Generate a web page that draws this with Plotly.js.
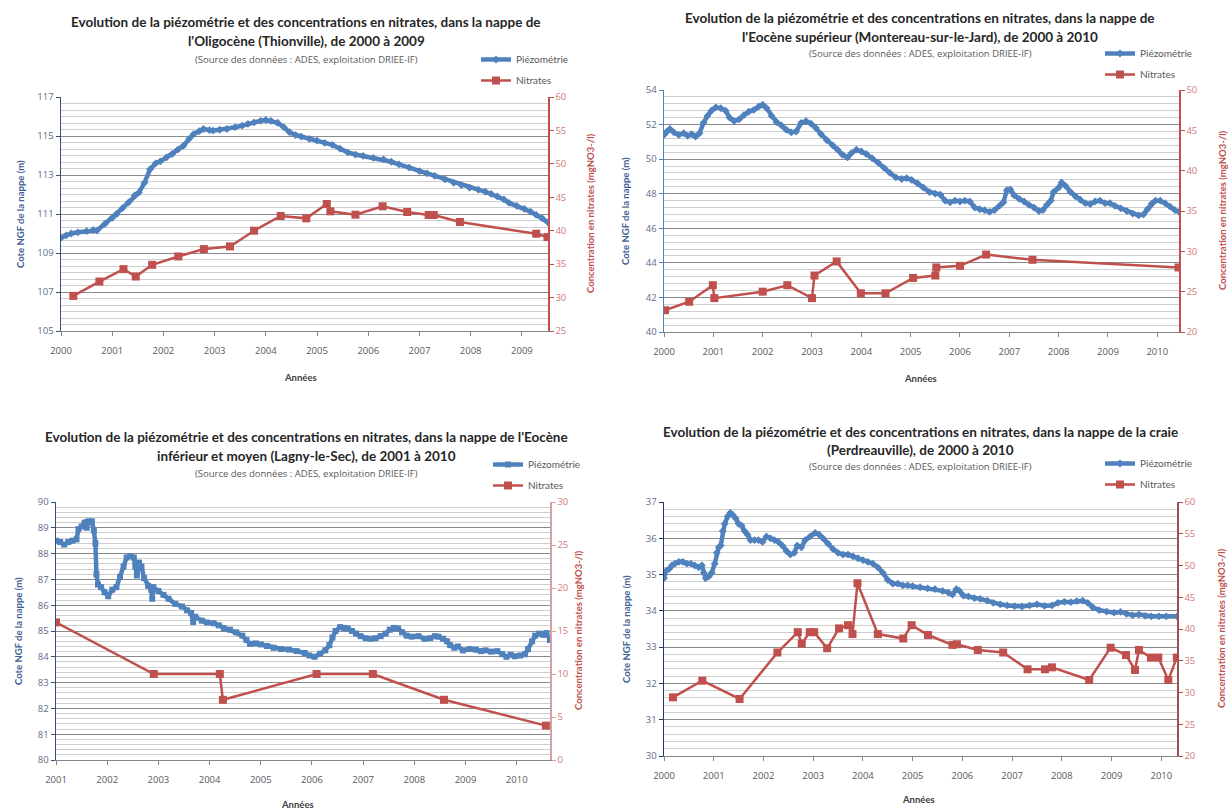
<!DOCTYPE html>
<html>
<head>
<meta charset="utf-8">
<script src="https://cdn.plot.ly/plotly-3.0.1.min.js"></script>
<style>html,body{margin:0;padding:0;background:#fff;}#chart{width:1229px;height:810px;}</style>
</head>
<body>
<div id="chart"></div>
<script>
// ---------- DATA ----------
// Panel 1 : Oligocène (Thionville)
const p1PiezoYears = [2000.00,2000.10,2000.20,2000.33,2000.50,2000.63,2000.70,2000.86,2001.00,2001.09,2001.20,2001.32,2001.44,2001.52,2001.63,2001.74,2001.85,2001.94,2002.06,2002.17,2002.28,2002.39,2002.50,2002.59,2002.70,2002.78,2002.90,2002.97,2003.10,2003.24,2003.40,2003.54,2003.65,2003.77,2003.90,2004.00,2004.10,2004.23,2004.35,2004.46,2004.58,2004.69,2004.85,2005.00,2005.15,2005.30,2005.45,2005.60,2005.75,2005.90,2006.10,2006.30,2006.45,2006.60,2006.80,2007.00,2007.15,2007.30,2007.50,2007.67,2007.82,2007.98,2008.15,2008.29,2008.40,2008.52,2008.65,2008.75,2008.90,2009.05,2009.17,2009.28,2009.40,2009.51];
const p1PiezoValues = [109.78,109.90,110.00,110.06,110.12,110.18,110.15,110.50,110.80,111.00,111.30,111.60,111.95,112.10,112.60,113.30,113.60,113.70,113.90,114.07,114.30,114.50,114.85,115.10,115.25,115.36,115.30,115.28,115.32,115.36,115.45,115.53,115.62,115.70,115.78,115.82,115.78,115.68,115.45,115.20,115.05,114.97,114.85,114.76,114.65,114.55,114.35,114.16,114.05,113.98,113.88,113.80,113.68,113.55,113.38,113.20,113.08,112.95,112.78,112.60,112.48,112.35,112.25,112.14,112.03,111.90,111.75,111.57,111.42,111.26,111.12,110.95,110.78,110.57];
const p1NitrYears = [2000.24,2000.75,2001.22,2001.46,2001.78,2002.29,2002.79,2003.30,2003.77,2004.29,2004.79,2005.19,2005.26,2005.75,2006.28,2006.76,2007.18,2007.28,2007.79,2009.28,2009.50];
const p1NitrValues = [30.25,32.4,34.25,33.15,34.9,36.15,37.25,37.65,40.0,42.2,41.85,44.0,42.9,42.4,43.65,42.8,42.35,42.35,41.3,39.55,39.05];

// Panel 2 : Eocène supérieur (Montereau-sur-le-Jard)
const p2PiezoYears = [2000.00,2000.06,2000.12,2000.20,2000.30,2000.40,2000.48,2000.56,2000.64,2000.72,2000.80,2000.88,2000.96,2001.05,2001.15,2001.25,2001.33,2001.42,2001.52,2001.62,2001.72,2001.82,2001.92,2002.00,2002.08,2002.18,2002.28,2002.38,2002.48,2002.58,2002.68,2002.78,2002.88,2002.98,2003.08,2003.18,2003.30,2003.42,2003.52,2003.62,2003.72,2003.80,2003.90,2004.00,2004.10,2004.22,2004.34,2004.46,2004.58,2004.70,2004.82,2004.92,2005.02,2005.14,2005.26,2005.38,2005.50,2005.60,2005.70,2005.80,2005.90,2006.00,2006.10,2006.20,2006.30,2006.40,2006.50,2006.60,2006.70,2006.80,2006.88,2006.95,2007.02,2007.10,2007.20,2007.30,2007.40,2007.50,2007.60,2007.68,2007.76,2007.84,2007.90,2008.00,2008.06,2008.14,2008.24,2008.34,2008.44,2008.54,2008.64,2008.74,2008.84,2008.94,2009.04,2009.14,2009.26,2009.38,2009.50,2009.62,2009.72,2009.80,2009.88,2009.96,2010.06,2010.16,2010.26,2010.36,2010.44];
const p2PiezoValues = [51.40,51.60,51.75,51.55,51.40,51.50,51.35,51.45,51.30,51.50,52.10,52.50,52.80,53.00,52.95,52.80,52.40,52.20,52.30,52.55,52.75,52.85,53.05,53.15,52.95,52.50,52.15,51.95,51.70,51.55,51.60,52.10,52.20,52.05,51.80,51.45,51.10,50.80,50.55,50.25,50.10,50.35,50.55,50.45,50.30,50.05,49.80,49.50,49.20,48.95,48.85,48.90,48.80,48.60,48.35,48.10,48.00,47.95,47.60,47.50,47.60,47.55,47.60,47.55,47.20,47.10,47.05,46.95,47.05,47.30,47.50,48.20,48.25,47.90,47.70,47.55,47.35,47.20,47.00,47.05,47.35,47.60,48.10,48.35,48.65,48.45,48.10,47.85,47.65,47.45,47.40,47.55,47.60,47.45,47.45,47.30,47.15,47.00,46.85,46.75,46.80,47.10,47.40,47.60,47.60,47.45,47.25,47.05,46.95];
const p2NitrYears = [2000.02,2000.51,2000.99,2001.02,2002.00,2002.50,2003.00,2003.05,2003.50,2003.99,2004.49,2005.05,2005.50,2005.52,2006.00,2006.53,2007.47,2010.43];
const p2NitrValues = [22.7,23.75,25.8,24.2,25.0,25.8,24.2,27.0,28.75,24.8,24.8,26.7,27.0,28.0,28.2,29.6,28.95,28.0];

// Panel 3 : Eocène inférieur et moyen (Lagny-le-Sec)
const p3PiezoYears = [2001.00,2001.08,2001.16,2001.24,2001.32,2001.40,2001.44,2001.50,2001.56,2001.60,2001.64,2001.70,2001.74,2001.77,2001.79,2001.82,2001.88,2001.95,2002.02,2002.10,2002.18,2002.25,2002.32,2002.38,2002.45,2002.52,2002.55,2002.58,2002.62,2002.67,2002.72,2002.80,2002.86,2002.88,2002.90,2003.00,2003.10,2003.20,2003.33,2003.46,2003.56,2003.64,2003.68,2003.72,2003.85,2003.95,2004.08,2004.18,2004.28,2004.40,2004.52,2004.64,2004.72,2004.79,2004.90,2005.00,2005.12,2005.25,2005.40,2005.55,2005.70,2005.86,2005.95,2006.05,2006.16,2006.26,2006.34,2006.40,2006.46,2006.55,2006.63,2006.70,2006.78,2006.86,2006.95,2007.05,2007.15,2007.24,2007.34,2007.44,2007.52,2007.60,2007.68,2007.76,2007.85,2007.95,2008.08,2008.20,2008.31,2008.40,2008.47,2008.56,2008.64,2008.70,2008.78,2008.85,2008.95,2009.08,2009.20,2009.30,2009.39,2009.50,2009.62,2009.72,2009.80,2009.88,2009.96,2010.07,2010.16,2010.22,2010.30,2010.36,2010.44,2010.52,2010.58,2010.65];
const p3PiezoValues = [88.50,88.45,88.35,88.45,88.50,88.55,88.95,89.05,89.20,89.00,89.25,89.25,88.90,88.40,87.20,86.80,86.70,86.50,86.35,86.60,86.70,87.10,87.50,87.85,87.90,87.85,87.50,87.15,87.65,87.50,87.05,86.75,86.60,86.25,86.70,86.55,86.40,86.25,86.05,85.95,85.80,85.70,85.35,85.55,85.40,85.33,85.30,85.22,85.10,85.05,84.95,84.82,84.65,84.50,84.52,84.48,84.42,84.35,84.30,84.28,84.22,84.15,84.05,84.00,84.12,84.25,84.45,84.75,85.00,85.15,85.12,85.10,85.00,84.90,84.80,84.72,84.70,84.72,84.80,84.90,85.05,85.12,85.10,84.95,84.82,84.78,84.80,84.70,84.72,84.80,84.78,84.70,84.60,84.45,84.35,84.40,84.25,84.30,84.28,84.22,84.25,84.20,84.22,84.10,84.00,84.08,84.02,84.05,84.10,84.30,84.60,84.82,84.90,84.85,84.92,84.65];
const p3NitrYears = [2001.00,2002.91,2004.20,2004.26,2006.09,2007.19,2008.58,2010.57];
const p3NitrValues = [16.0,10.0,10.0,7.0,10.0,10.0,7.0,4.0];

// Panel 4 : craie (Perdreauville)
const p4PiezoYears = [2000.00,2000.04,2000.10,2000.16,2000.22,2000.30,2000.38,2000.46,2000.54,2000.62,2000.70,2000.76,2000.80,2000.84,2000.90,2000.96,2001.02,2001.06,2001.10,2001.14,2001.18,2001.22,2001.28,2001.33,2001.38,2001.44,2001.50,2001.56,2001.62,2001.68,2001.74,2001.82,2001.90,2001.98,2002.06,2002.14,2002.22,2002.30,2002.38,2002.46,2002.54,2002.62,2002.68,2002.76,2002.84,2002.94,2003.04,2003.12,2003.20,2003.30,2003.40,2003.50,2003.60,2003.70,2003.80,2003.90,2004.00,2004.10,2004.20,2004.30,2004.40,2004.50,2004.60,2004.70,2004.80,2004.90,2005.00,2005.15,2005.30,2005.45,2005.60,2005.72,2005.80,2005.88,2005.94,2006.02,2006.12,2006.24,2006.36,2006.50,2006.62,2006.76,2006.90,2007.05,2007.20,2007.35,2007.50,2007.65,2007.80,2007.92,2008.05,2008.18,2008.30,2008.42,2008.52,2008.62,2008.75,2008.90,2009.05,2009.18,2009.30,2009.42,2009.55,2009.68,2009.80,2009.95,2010.10,2010.315];
const p4PiezoValues = [34.90,35.10,35.15,35.25,35.30,35.35,35.35,35.30,35.30,35.25,35.20,35.25,35.05,34.90,34.95,35.05,35.30,35.60,35.75,35.80,36.20,36.40,36.60,36.70,36.65,36.55,36.40,36.35,36.20,36.10,35.95,35.95,35.95,35.90,36.05,36.00,35.95,35.90,35.80,35.65,35.55,35.60,35.80,35.75,35.95,36.05,36.15,36.10,36.00,35.85,35.70,35.60,35.55,35.55,35.50,35.45,35.40,35.35,35.30,35.20,35.05,34.85,34.75,34.75,34.70,34.70,34.68,34.65,34.62,34.60,34.55,34.50,34.45,34.60,34.55,34.42,34.40,34.35,34.33,34.28,34.22,34.18,34.15,34.13,34.12,34.15,34.18,34.14,34.15,34.22,34.25,34.24,34.27,34.28,34.22,34.10,34.02,33.98,33.95,33.97,33.92,33.88,33.90,33.86,33.85,33.85,33.85,33.85];
const p4NitrYears = [2000.18,2000.77,2001.52,2002.28,2002.69,2002.77,2002.93,2003.02,2003.28,2003.52,2003.70,2003.79,2003.89,2004.30,2004.81,2004.98,2005.31,2005.80,2005.89,2006.31,2006.82,2007.31,2007.66,2007.80,2008.55,2008.98,2009.29,2009.47,2009.55,2009.79,2009.94,2010.14,2010.31];
const p4NitrValues = [29.24,31.86,28.98,36.3,39.5,37.7,39.5,39.5,36.96,40.1,40.6,39.2,47.2,39.2,38.5,40.6,39.05,37.5,37.6,36.7,36.3,33.65,33.65,33.96,31.97,37.06,35.9,33.55,36.7,35.5,35.5,31.97,35.5];

// Text
const seriesNames = ['Piézométrie','Nitrates'];
const titles = [
  ['Evolution de la piézométrie et des concentrations en nitrates, dans la nappe de', "l'Oligocène (Thionville), de 2000 à 2009"],
  ['Evolution de la piézométrie et des concentrations en nitrates, dans la nappe de', "l'Eocène supérieur (Montereau-sur-le-Jard), de 2000 à 2010"],
  ["Evolution de la piézométrie et des concentrations en nitrates, dans la nappe de l'Eocène", 'inférieur et moyen (Lagny-le-Sec), de 2001 à 2010'],
  ['Evolution de la piézométrie et des concentrations en nitrates, dans la nappe de la craie', '(Perdreauville), de 2000 à 2010']
];
const sourceText = '(Source des données : ADES, exploitation DRIEE-IF)';
const xTitle = 'Années';
const yLeftTitle = 'Cote NGF de la nappe (m)';
const yRightTitle = 'Concentration en nitrates (mgNO3-/l)';

// ---------- LAYOUT HELPERS ----------
const W = 1229, H = 810;
const PX = v => v / W, PY = v => 1 - v / H;
const FONT = 'Lato, "Open Sans", "Liberation Sans", sans-serif';
const FONT2 = '"Open Sans", Lato, "Liberation Sans", sans-serif';
const BLUE = '#4F81BD', RED = '#C0504D';

const panels = [
  {px:[61,548], py:[97,331], xr:[2000,2009.51], xt:[2000,2009], yl:[105,117], ydt:2, ymin:1/3, yr:[25,60], piezo:[p1PiezoYears,p1PiezoValues], nitr:[p1NitrYears,p1NitrValues], sym:'diamond',
   tc:306, ty:[22,41], sy:59, lx:476, ly:45, ylx:21, yrx:591, xtx:300, xty:377, laxis:'#3b4f73', raxis:RED},
  {px:[664,1179], py:[90,332], xr:[2000,2010.44], xt:[2000,2010], yl:[40,54], ydt:2, ymin:0.4, yr:[20,50], piezo:[p2PiezoYears,p2PiezoValues], nitr:[p2NitrYears,p2NitrValues], sym:'diamond',
   tc:920, ty:[18,37], sy:53, lx:1100, ly:39, ylx:625, yrx:1222, xtx:920, xty:378, laxis:BLUE, raxis:RED},
  {px:[56,550], py:[502,760], xr:[2001,2010.65], xt:[2001,2010], yl:[80,90], ydt:1, ymin:0.2, yr:[0,30], piezo:[p3PiezoYears,p3PiezoValues], nitr:[p3NitrYears,p3NitrValues], sym:'square',
   tc:306, ty:[437,456], sy:473, lx:488, ly:450, ylx:18, yrx:578, xtx:297, xty:804, laxis:'#3b4f73', raxis:'#d8a0a0'},
  {px:[664,1177], py:[502,756], xr:[2000,2010.315], xt:[2000,2010], yl:[30,37], ydt:1, ymin:0.2, yr:[20,60], piezo:[p4PiezoYears,p4PiezoValues], nitr:[p4NitrYears,p4NitrValues], sym:'diamond',
   tc:920, ty:[432,450], sy:467, lx:1100, ly:449, ylx:626, yrx:1221, xtx:918, xty:799, laxis:'#1f3864', raxis:'#a05050'}
];

const data = [];
const layout = {
  width: W, height: H, margin: {l:0,r:0,t:0,b:0},
  paper_bgcolor: '#fff', plot_bgcolor: '#fff',
  font: {family: FONT, size: 9, color: '#595959'},
  showlegend: true, annotations: []
};

panels.forEach((p, i) => {
  const n = i + 1;
  const xa = n === 1 ? 'xaxis' : 'xaxis' + n;
  const xid = n === 1 ? 'x' : 'x' + n;
  const yLn = 2 * i + 1, yRn = 2 * i + 2;
  const yLa = yLn === 1 ? 'yaxis' : 'yaxis' + yLn;
  const yLid = yLn === 1 ? 'y' : 'y' + yLn;
  const yRa = 'yaxis' + yRn, yRid = 'y' + yRn;
  const leg = n === 1 ? 'legend' : 'legend' + n;

  const ticks = [];
  for (let t = p.xt[0]; t <= p.xt[1]; t++) ticks.push(t);

  layout[xa] = {
    domain: [PX(p.px[0]), PX(p.px[1])], anchor: yLid, range: p.xr,
    tickvals: ticks, ticktext: ticks.map(String), ticks: 'outside', ticklen: 4, tickcolor: '#868686',
    ticklabelstandoff: 7,
    showgrid: false, zeroline: false, showline: true, linecolor: '#868686', linewidth: 1,
    tickfont: {size: 9.5, color: '#595959', family: FONT2}
  };
  layout[yLa] = {
    domain: [PY(p.py[1]), PY(p.py[0])], anchor: xid, range: p.yl, dtick: p.ydt, tick0: p.yl[0],
    ticks: 'outside', ticklen: 4, tickcolor: p.laxis, showline: true, linecolor: p.laxis, linewidth: 1.5,
    showgrid: true, gridcolor: '#8a8a8a', gridwidth: 1, zeroline: false,
    minor: {dtick: p.ymin, tick0: p.yl[0], showgrid: true, gridcolor: '#cfcfcf', gridwidth: 1, ticks: ''},
    tickfont: {size: 9.5, color: '#5d6b88', family: FONT2}
  };
  layout[yRa] = {
    overlaying: yLid, side: 'right', anchor: xid, range: p.yr, dtick: 5, tick0: p.yr[0],
    ticks: 'outside', ticklen: 4, tickcolor: p.raxis, showline: true, linecolor: p.raxis, linewidth: 1.5,
    showgrid: false, zeroline: false,
    tickfont: {size: 9.5, color: '#d07a78', family: FONT2}
  };
  layout[leg] = {
    x: PX(p.lx), y: PY(p.ly), xanchor: 'left', yanchor: 'top', bgcolor: 'rgba(0,0,0,0)',
    font: {size: 10, color: '#595959', family: FONT}, tracegroupgap: 2, itemwidth: 30
  };

  data.push({
    x: p.piezo[0], y: p.piezo[1], xaxis: xid, yaxis: yLid, name: seriesNames[0], legend: leg, legendgroup: 'a' + n,
    type: 'scatter', mode: 'lines+markers', line: {color: BLUE, width: 4.5},
    marker: {symbol: p.sym, size: 6, color: BLUE}
  });
  data.push({
    x: p.nitr[0], y: p.nitr[1], xaxis: xid, yaxis: yRid, name: seriesNames[1], legend: leg, legendgroup: 'b' + n,
    type: 'scatter', mode: 'lines+markers', line: {color: RED, width: 2.5},
    marker: {symbol: 'square', size: 8, color: RED}
  });

  const A = layout.annotations;
  A.push({text: '<b>' + titles[i][0] + '</b>', x: PX(p.tc), y: PY(p.ty[0]), xref: 'paper', yref: 'paper', xanchor: 'center', yanchor: 'middle', showarrow: false, font: {size: 13.5, color: '#262626', family: FONT}});
  A.push({text: '<b>' + titles[i][1] + '</b>', x: PX(p.tc), y: PY(p.ty[1]), xref: 'paper', yref: 'paper', xanchor: 'center', yanchor: 'middle', showarrow: false, font: {size: 13.5, color: '#262626', family: FONT}});
  A.push({text: sourceText, x: PX(p.tc), y: PY(p.sy), xref: 'paper', yref: 'paper', xanchor: 'center', yanchor: 'middle', showarrow: false, font: {size: 9.5, color: '#595959', family: FONT2}});
  A.push({text: '<b>' + xTitle + '</b>', x: PX(p.xtx), y: PY(p.xty), xref: 'paper', yref: 'paper', xanchor: 'center', yanchor: 'middle', showarrow: false, font: {size: 9.5, color: '#404040', family: FONT}});
  A.push({text: '<b>' + yLeftTitle + '</b>', x: PX(p.ylx), y: PY((p.py[0] + p.py[1]) / 2), xref: 'paper', yref: 'paper', xanchor: 'center', yanchor: 'middle', textangle: -90, showarrow: false, font: {size: 9.5, color: '#3f5e93', family: FONT}});
  A.push({text: '<b>' + yRightTitle + '</b>', x: PX(p.yrx), y: PY((p.py[0] + p.py[1]) / 2), xref: 'paper', yref: 'paper', xanchor: 'center', yanchor: 'middle', textangle: -90, showarrow: false, font: {size: 9.5, color: RED, family: FONT}});
});

Plotly.newPlot('chart', data, layout, {displayModeBar: false, staticPlot: true});
</script>
</body>
</html>
